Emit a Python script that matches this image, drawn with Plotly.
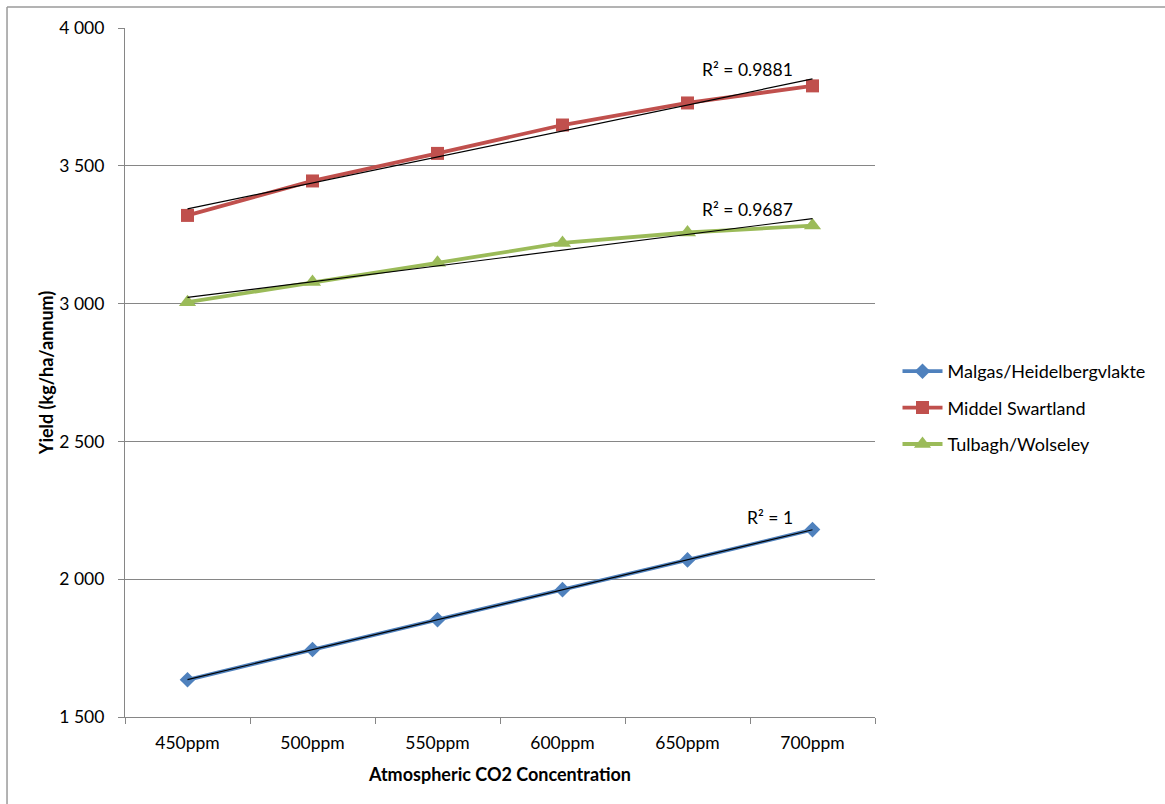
import numpy as np
import plotly.graph_objects as go

# CO2 scenarios on the category axis
categories = ["450ppm", "500ppm", "550ppm", "600ppm", "650ppm", "700ppm"]

# Yield per region (kg/ha/annum)
malgas = [1635, 1745, 1853, 1962, 2070, 2180]
middel = [3320, 3445, 3545, 3648, 3728, 3790]
tulbagh = [3005, 3078, 3148, 3220, 3258, 3283]

series_names = ["Malgas/Heidelbergvlakte", "Middel Swartland", "Tulbagh/Wolseley"]
r2_labels = ["R² = 1", "R² = 0.9881", "R² = 0.9687"]

colors = ["#4F81BD", "#C0504D", "#9BBB59"]
symbols = ["diamond", "square", "triangle-up"]
msizes = [12, 13, 15]
font_family = "Lato, Carlito, Calibri, sans-serif"

fig = go.Figure()
series = [malgas, middel, tulbagh]
idx = np.arange(1, len(categories) + 1)

for i, (name, vals) in enumerate(zip(series_names, series)):
    fig.add_trace(go.Scatter(
        x=categories, y=vals, name=name, mode="lines+markers",
        line=dict(color=colors[i], width=3.8),
        marker=dict(symbol=symbols[i], size=msizes[i], color=colors[i],
                    line=dict(width=0)),
        legendgroup=name,
    ))

# Linear trendlines (least-squares fit against category index)
for i, vals in enumerate(series):
    slope, intercept = np.polyfit(idx, vals, 1)
    fit = slope * idx + intercept
    fig.add_trace(go.Scatter(
        x=categories, y=fit, mode="lines", showlegend=False,
        line=dict(color="black", width=1.2), hoverinfo="skip",
    ))
    # R² label just above the right end of the trendline
    fig.add_annotation(
        x=4.48 if i else 4.66, y=fit[-1], xref="x", yref="y",
        text=r2_labels[i], showarrow=False, yshift=9 if i else 12,
        font=dict(family=font_family, size=17.5, color="black"),
    )

# Outer chart border (top and left edges)
border = dict(color="#9a9a9a", width=1.5)
fig.add_shape(type="line", xref="paper", yref="paper",
              x0=-0.1573, x1=1.5, y0=1.0305, y1=1.0305, line=border)
fig.add_shape(type="line", xref="paper", yref="paper",
              x0=-0.1573, x1=-0.1573, y0=1.0305, y1=-0.2, line=border)

fig.update_layout(
    width=1165, height=804,
    margin=dict(l=125, r=290, t=28, b=87),
    paper_bgcolor="white", plot_bgcolor="white",
    separators=". ",
    font=dict(family=font_family, size=17.5, color="black"),
    showlegend=True,
    legend=dict(
        x=1.03, y=0.4485, xanchor="left", yanchor="middle",
        traceorder="grouped", tracegroupgap=10,
        font=dict(family=font_family, size=18, color="black"),
        itemwidth=40,
    ),
    xaxis=dict(
        type="category", range=[-0.5, 5.5],
        showgrid=False, showline=True, linecolor="#868686", linewidth=1.2,
        ticks="outside", tickson="boundaries", ticklen=6, tickcolor="#868686",
        ticklabelstandoff=10,
        tickfont=dict(family=font_family, size=17.5),
        title=dict(text="<b>Atmospheric CO2 Concentration</b>", standoff=16,
                   font=dict(family=font_family, size=18)),
    ),
    yaxis=dict(
        range=[1500, 4000], dtick=500, tickformat=",d",
        showgrid=True, gridcolor="#868686", gridwidth=1.2,
        showline=True, linecolor="#868686", linewidth=1.2,
        ticks="outside", ticklen=6, tickcolor="#868686",
        ticklabelstandoff=10,
        tickfont=dict(family=font_family, size=17.5),
        title=dict(text="<b>Yield (kg/ha/annum)</b>", standoff=1,
                   font=dict(family=font_family, size=18)),
        zeroline=False,
    ),
)

fig.write_html("out.html")
